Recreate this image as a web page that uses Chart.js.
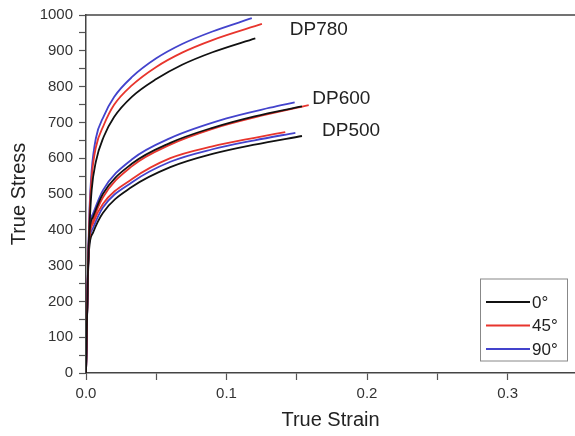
<!DOCTYPE html>
<html>
<head>
<meta charset="utf-8">
<script src="https://cdn.jsdelivr.net/npm/chart.js@4.4.1/dist/chart.umd.min.js"></script>
<style>
  html, body { margin: 0; padding: 0; background: #fff; }
  #c { display: block; }
</style>
</head>
<body>
<canvas id="c" width="575" height="436"></canvas>
<script>
// strain / stress, one pair of arrays per curve
const dp780Strain0 = [0, 0.0015, 0.0025, 0.004, 0.007, 0.0126, 0.02, 0.0328, 0.05, 0.0684, 0.09, 0.1205];
const dp780Stress0 = [0, 300, 410, 510, 590, 660, 715, 772, 821, 861, 896, 935];
const dp780Strain45 = [0, 0.0015, 0.0025, 0.004, 0.007, 0.0126, 0.02, 0.0328, 0.05, 0.0684, 0.09, 0.1252];
const dp780Stress45 = [0, 310, 440, 545, 630, 692, 749, 804, 855, 895, 930, 975];
const dp780Strain90 = [0, 0.0015, 0.0025, 0.004, 0.007, 0.0126, 0.02, 0.0328, 0.05, 0.0684, 0.09, 0.118];
const dp780Stress90 = [0, 320, 460, 565, 655, 717, 771, 827, 879, 919, 954, 991];

const dp600Strain0 = [0, 0.0012, 0.0022, 0.005, 0.012, 0.0328, 0.06, 0.09, 0.12, 0.1537];
const dp600Stress0 = [0, 250, 383, 436, 500, 585, 643, 685, 717, 745];
const dp600Strain45 = [0, 0.0012, 0.0022, 0.005, 0.012, 0.0328, 0.06, 0.09, 0.12, 0.1585];
const dp600Stress45 = [0, 250, 371, 425, 490, 578, 638, 682, 714, 748];
const dp600Strain90 = [0, 0.0012, 0.0022, 0.005, 0.012, 0.0328, 0.06, 0.1, 0.131, 0.1485];
const dp600Stress90 = [0, 250, 391, 445, 510, 597, 656, 711, 741, 756];

const dp500Strain0 = [0, 0.0012, 0.0022, 0.005, 0.012, 0.0328, 0.06, 0.09, 0.12, 0.1537];
const dp500Stress0 = [0, 240, 345, 392, 447, 520, 575, 612, 638, 662];
const dp500Strain45 = [0, 0.0012, 0.0022, 0.005, 0.012, 0.0328, 0.06, 0.09, 0.12, 0.1418];
const dp500Stress45 = [0, 250, 365, 418, 472, 542, 600, 633, 657, 673];
const dp500Strain90 = [0, 0.0012, 0.0022, 0.005, 0.012, 0.0328, 0.06, 0.09, 0.12, 0.149];
const dp500Stress90 = [0, 245, 358, 405, 462, 533, 590, 625, 650, 671];

const orientations = ['0°', '45°', '90°'];
const orientationColors = ['#111111', '#e8352d', '#4343cc'];
const gradeLabels = ['DP780', 'DP600', 'DP500'];
const gradeLabelAt = [[0.145, 960], [0.161, 765], [0.168, 677]];

const xTicks = [0, 0.05, 0.1, 0.15, 0.2, 0.25, 0.3];
const yTicks = [0, 50, 100, 150, 200, 250, 300, 350, 400, 450, 500, 550, 600, 650, 700, 750, 800, 850, 900, 950, 1000];

const curves = [
  [dp780Strain0, dp780Stress0, 0], [dp780Strain45, dp780Stress45, 1], [dp780Strain90, dp780Stress90, 2],
  [dp600Strain0, dp600Stress0, 0], [dp600Strain45, dp600Stress45, 1], [dp600Strain90, dp600Stress90, 2],
  [dp500Strain0, dp500Stress0, 0], [dp500Strain45, dp500Stress45, 1], [dp500Strain90, dp500Stress90, 2]
];

const datasets = curves.map(([xs, ys, k]) => ({
  label: orientations[k],
  data: xs.map((x, i) => ({ x: x, y: ys[i] })),
  borderColor: orientationColors[k],
  borderWidth: 1.8,
  pointRadius: 0,
  fill: false,
  cubicInterpolationMode: 'monotone'
}));

const FONT = "'Liberation Sans', Arial, sans-serif";

// top frame line, grade names and the boxed legend
const extras = {
  id: 'extras',
  afterDraw(chart) {
    const { ctx, chartArea: a, scales } = chart;
    ctx.save();
    ctx.strokeStyle = '#444';
    ctx.lineWidth = 1.5;
    ctx.beginPath();
    ctx.moveTo(a.left, a.top);
    ctx.lineTo(a.right, a.top);
    ctx.stroke();

    ctx.fillStyle = '#222';
    ctx.font = '19px ' + FONT;
    ctx.textBaseline = 'middle';
    ctx.textAlign = 'left';
    gradeLabels.forEach((t, i) => {
      ctx.fillText(t, scales.x.getPixelForValue(gradeLabelAt[i][0]), scales.y.getPixelForValue(gradeLabelAt[i][1]));
    });

    // legend
    const bx = 480, by = 278.5, bw = 87, bh = 82;
    ctx.fillStyle = '#fff';
    ctx.fillRect(bx, by, bw, bh);
    ctx.strokeStyle = '#888';
    ctx.lineWidth = 1;
    ctx.strokeRect(bx + 0.5, by + 0.5, bw, bh);
    ctx.font = '17px ' + FONT;
    orientations.forEach((t, i) => {
      const yy = 302 + i * 23.5;
      ctx.strokeStyle = orientationColors[i];
      ctx.lineWidth = 1.8;
      ctx.beginPath();
      ctx.moveTo(486, yy);
      ctx.lineTo(530, yy);
      ctx.stroke();
      ctx.fillStyle = '#222';
      ctx.fillText(t, 532, yy + 1);
    });
    ctx.restore();
  }
};

const isMajor = (v, step) => Math.abs(v / step - Math.round(v / step)) < 1e-6;

new Chart(document.getElementById('c'), {
  type: 'line',
  data: { datasets: datasets },
  options: {
    responsive: false,
    animation: false,
    layout: { padding: { top: 10.5, right: 0, bottom: 0, left: 0 } },
    plugins: { legend: { display: false }, tooltip: { enabled: false } },
    scales: {
      x: {
        type: 'linear',
        min: 0,
        max: 0.348,
        afterBuildTicks: s => { s.ticks = xTicks.map(v => ({ value: v })); },
        afterFit: s => { s.height = 63; },
        grid: { drawOnChartArea: false, tickLength: 7, tickColor: '#555', tickWidth: 1.2 },
        border: { color: '#444', width: 1.5 },
        ticks: {
          padding: 5,
          color: '#333',
          font: { family: FONT, size: 15 },
          maxRotation: 0,
          autoSkip: false,
          callback: v => isMajor(v, 0.1) ? v.toFixed(1) : ''
        },
        title: {
          display: true,
          text: 'True Strain',
          color: '#222',
          font: { family: FONT, size: 20 },
          padding: { top: 0, bottom: 4 }
        }
      },
      y: {
        type: 'linear',
        min: 0,
        max: 1000,
        afterBuildTicks: s => { s.ticks = yTicks.map(v => ({ value: v })); },
        afterFit: s => { s.width = 86; },
        grid: { drawOnChartArea: false, tickLength: 7, tickColor: '#555', tickWidth: 1.2 },
        border: { color: '#444', width: 1.5 },
        ticks: {
          padding: 6,
          color: '#333',
          font: { family: FONT, size: 15 },
          autoSkip: false,
          callback: v => isMajor(v, 100) ? String(v) : ''
        },
        title: {
          display: true,
          text: 'True Stress',
          color: '#222',
          font: { family: FONT, size: 20 },
          padding: { top: 7, bottom: 0 }
        }
      }
    }
  },
  plugins: [extras]
});
</script>
</body>
</html>
